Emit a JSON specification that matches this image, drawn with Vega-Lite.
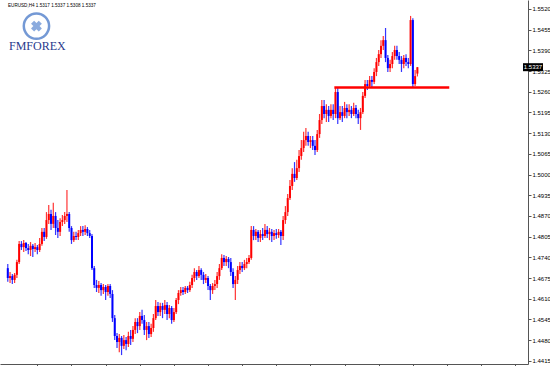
{
"$schema": "https://vega.github.io/schema/vega-lite/v6.json",
"width": 528, "height": 364,
"autosize": {"type": "none"},
"padding": {"left": 0, "top": 0, "right": 22, "bottom": 2},
"background": "white",
"config": {"view": {"stroke": null}, "font": "Liberation Sans", "axis": {"labelOverlap": false, "labelFlush": false, "grid": false}},
"data": {"values": [
{"i":0,"o":1.4706,"h":1.4719,"l":1.4663,"c":1.4675},
{"i":1,"o":1.4675,"h":1.4694,"l":1.4659,"c":1.4681},
{"i":2,"o":1.4681,"h":1.4688,"l":1.4656,"c":1.4669},
{"i":3,"o":1.4669,"h":1.4691,"l":1.4659,"c":1.4685},
{"i":4,"o":1.4685,"h":1.4732,"l":1.4675,"c":1.4725},
{"i":5,"o":1.4725,"h":1.4791,"l":1.4719,"c":1.4782},
{"i":6,"o":1.4782,"h":1.4791,"l":1.4763,"c":1.4772},
{"i":7,"o":1.4772,"h":1.4794,"l":1.4757,"c":1.4785},
{"i":8,"o":1.4785,"h":1.4788,"l":1.4760,"c":1.4769},
{"i":9,"o":1.4769,"h":1.4782,"l":1.4750,"c":1.4763},
{"i":10,"o":1.4763,"h":1.4788,"l":1.4744,"c":1.4776},
{"i":11,"o":1.4776,"h":1.4782,"l":1.4741,"c":1.4766},
{"i":12,"o":1.4766,"h":1.4785,"l":1.4757,"c":1.4772},
{"i":13,"o":1.4772,"h":1.4779,"l":1.4750,"c":1.4763},
{"i":14,"o":1.4763,"h":1.4801,"l":1.4757,"c":1.4782},
{"i":15,"o":1.4782,"h":1.4832,"l":1.4776,"c":1.4820},
{"i":16,"o":1.4820,"h":1.4832,"l":1.4791,"c":1.4804},
{"i":17,"o":1.4804,"h":1.4882,"l":1.4798,"c":1.4857},
{"i":18,"o":1.4857,"h":1.4904,"l":1.4845,"c":1.4876},
{"i":19,"o":1.4876,"h":1.4889,"l":1.4826,"c":1.4845},
{"i":20,"o":1.4845,"h":1.4911,"l":1.4832,"c":1.4870},
{"i":21,"o":1.4870,"h":1.4882,"l":1.4810,"c":1.4832},
{"i":22,"o":1.4832,"h":1.4857,"l":1.4801,"c":1.4820},
{"i":23,"o":1.4820,"h":1.4863,"l":1.4807,"c":1.4851},
{"i":24,"o":1.4851,"h":1.4873,"l":1.4838,"c":1.4857},
{"i":25,"o":1.4857,"h":1.4882,"l":1.4845,"c":1.4870},
{"i":26,"o":1.4870,"h":1.4951,"l":1.4851,"c":1.4876},
{"i":27,"o":1.4876,"h":1.4882,"l":1.4820,"c":1.4832},
{"i":28,"o":1.4832,"h":1.4838,"l":1.4782,"c":1.4794},
{"i":29,"o":1.4794,"h":1.4820,"l":1.4788,"c":1.4807},
{"i":30,"o":1.4807,"h":1.4820,"l":1.4794,"c":1.4804},
{"i":31,"o":1.4804,"h":1.4826,"l":1.4794,"c":1.4816},
{"i":32,"o":1.4816,"h":1.4838,"l":1.4807,"c":1.4826},
{"i":33,"o":1.4826,"h":1.4838,"l":1.4807,"c":1.4820},
{"i":34,"o":1.4820,"h":1.4841,"l":1.4810,"c":1.4829},
{"i":35,"o":1.4829,"h":1.4835,"l":1.4807,"c":1.4816},
{"i":36,"o":1.4816,"h":1.4826,"l":1.4801,"c":1.4807},
{"i":37,"o":1.4807,"h":1.4813,"l":1.4700,"c":1.4706},
{"i":38,"o":1.4706,"h":1.4713,"l":1.4644,"c":1.4653},
{"i":39,"o":1.4653,"h":1.4669,"l":1.4631,"c":1.4644},
{"i":40,"o":1.4644,"h":1.4666,"l":1.4628,"c":1.4653},
{"i":41,"o":1.4653,"h":1.4659,"l":1.4619,"c":1.4637},
{"i":42,"o":1.4637,"h":1.4656,"l":1.4625,"c":1.4647},
{"i":43,"o":1.4647,"h":1.4653,"l":1.4606,"c":1.4631},
{"i":44,"o":1.4631,"h":1.4656,"l":1.4619,"c":1.4650},
{"i":45,"o":1.4650,"h":1.4656,"l":1.4612,"c":1.4625},
{"i":46,"o":1.4625,"h":1.4637,"l":1.4537,"c":1.4549},
{"i":47,"o":1.4549,"h":1.4559,"l":1.4480,"c":1.4493},
{"i":48,"o":1.4493,"h":1.4502,"l":1.4455,"c":1.4474},
{"i":49,"o":1.4474,"h":1.4499,"l":1.4442,"c":1.4487},
{"i":50,"o":1.4487,"h":1.4493,"l":1.4433,"c":1.4462},
{"i":51,"o":1.4462,"h":1.4496,"l":1.4452,"c":1.4480},
{"i":52,"o":1.4480,"h":1.4490,"l":1.4448,"c":1.4468},
{"i":53,"o":1.4468,"h":1.4506,"l":1.4458,"c":1.4493},
{"i":54,"o":1.4493,"h":1.4512,"l":1.4465,"c":1.4484},
{"i":55,"o":1.4484,"h":1.4524,"l":1.4474,"c":1.4512},
{"i":56,"o":1.4512,"h":1.4549,"l":1.4499,"c":1.4537},
{"i":57,"o":1.4537,"h":1.4549,"l":1.4502,"c":1.4524},
{"i":58,"o":1.4524,"h":1.4568,"l":1.4512,"c":1.4556},
{"i":59,"o":1.4556,"h":1.4575,"l":1.4531,"c":1.4543},
{"i":60,"o":1.4543,"h":1.4559,"l":1.4496,"c":1.4512},
{"i":61,"o":1.4512,"h":1.4537,"l":1.4480,"c":1.4524},
{"i":62,"o":1.4524,"h":1.4537,"l":1.4487,"c":1.4499},
{"i":63,"o":1.4499,"h":1.4531,"l":1.4490,"c":1.4518},
{"i":64,"o":1.4518,"h":1.4562,"l":1.4506,"c":1.4549},
{"i":65,"o":1.4549,"h":1.4606,"l":1.4543,"c":1.4587},
{"i":66,"o":1.4587,"h":1.4600,"l":1.4556,"c":1.4568},
{"i":67,"o":1.4568,"h":1.4597,"l":1.4556,"c":1.4587},
{"i":68,"o":1.4587,"h":1.4597,"l":1.4549,"c":1.4575},
{"i":69,"o":1.4575,"h":1.4606,"l":1.4562,"c":1.4590},
{"i":70,"o":1.4590,"h":1.4600,"l":1.4543,"c":1.4562},
{"i":71,"o":1.4562,"h":1.4590,"l":1.4549,"c":1.4581},
{"i":72,"o":1.4581,"h":1.4587,"l":1.4531,"c":1.4543},
{"i":73,"o":1.4543,"h":1.4581,"l":1.4537,"c":1.4568},
{"i":74,"o":1.4568,"h":1.4612,"l":1.4562,"c":1.4606},
{"i":75,"o":1.4606,"h":1.4637,"l":1.4593,"c":1.4628},
{"i":76,"o":1.4628,"h":1.4647,"l":1.4619,"c":1.4637},
{"i":77,"o":1.4637,"h":1.4647,"l":1.4622,"c":1.4631},
{"i":78,"o":1.4631,"h":1.4650,"l":1.4625,"c":1.4644},
{"i":79,"o":1.4644,"h":1.4650,"l":1.4628,"c":1.4637},
{"i":80,"o":1.4637,"h":1.4663,"l":1.4631,"c":1.4653},
{"i":81,"o":1.4653,"h":1.4685,"l":1.4644,"c":1.4675},
{"i":82,"o":1.4675,"h":1.4706,"l":1.4663,"c":1.4694},
{"i":83,"o":1.4694,"h":1.4700,"l":1.4669,"c":1.4681},
{"i":84,"o":1.4681,"h":1.4713,"l":1.4675,"c":1.4700},
{"i":85,"o":1.4700,"h":1.4706,"l":1.4669,"c":1.4685},
{"i":86,"o":1.4685,"h":1.4694,"l":1.4656,"c":1.4669},
{"i":87,"o":1.4669,"h":1.4688,"l":1.4659,"c":1.4675},
{"i":88,"o":1.4675,"h":1.4681,"l":1.4637,"c":1.4650},
{"i":89,"o":1.4650,"h":1.4656,"l":1.4606,"c":1.4637},
{"i":90,"o":1.4637,"h":1.4659,"l":1.4625,"c":1.4650},
{"i":91,"o":1.4650,"h":1.4669,"l":1.4637,"c":1.4656},
{"i":92,"o":1.4656,"h":1.4694,"l":1.4644,"c":1.4681},
{"i":93,"o":1.4681,"h":1.4719,"l":1.4669,"c":1.4706},
{"i":94,"o":1.4706,"h":1.4750,"l":1.4700,"c":1.4738},
{"i":95,"o":1.4738,"h":1.4747,"l":1.4713,"c":1.4725},
{"i":96,"o":1.4725,"h":1.4744,"l":1.4713,"c":1.4735},
{"i":97,"o":1.4735,"h":1.4741,"l":1.4706,"c":1.4725},
{"i":98,"o":1.4725,"h":1.4738,"l":1.4681,"c":1.4694},
{"i":99,"o":1.4694,"h":1.4706,"l":1.4644,"c":1.4656},
{"i":100,"o":1.4656,"h":1.4681,"l":1.4606,"c":1.4669},
{"i":101,"o":1.4669,"h":1.4713,"l":1.4656,"c":1.4700},
{"i":102,"o":1.4700,"h":1.4725,"l":1.4688,"c":1.4713},
{"i":103,"o":1.4713,"h":1.4725,"l":1.4694,"c":1.4706},
{"i":104,"o":1.4706,"h":1.4732,"l":1.4700,"c":1.4719},
{"i":105,"o":1.4719,"h":1.4738,"l":1.4706,"c":1.4725},
{"i":106,"o":1.4725,"h":1.4747,"l":1.4719,"c":1.4738},
{"i":107,"o":1.4738,"h":1.4838,"l":1.4732,"c":1.4826},
{"i":108,"o":1.4826,"h":1.4838,"l":1.4794,"c":1.4807},
{"i":109,"o":1.4807,"h":1.4829,"l":1.4794,"c":1.4820},
{"i":110,"o":1.4820,"h":1.4826,"l":1.4788,"c":1.4801},
{"i":111,"o":1.4801,"h":1.4826,"l":1.4788,"c":1.4813},
{"i":112,"o":1.4813,"h":1.4832,"l":1.4794,"c":1.4807},
{"i":113,"o":1.4807,"h":1.4845,"l":1.4801,"c":1.4826},
{"i":114,"o":1.4826,"h":1.4838,"l":1.4801,"c":1.4813},
{"i":115,"o":1.4813,"h":1.4832,"l":1.4794,"c":1.4820},
{"i":116,"o":1.4820,"h":1.4829,"l":1.4788,"c":1.4807},
{"i":117,"o":1.4807,"h":1.4826,"l":1.4794,"c":1.4816},
{"i":118,"o":1.4816,"h":1.4829,"l":1.4798,"c":1.4810},
{"i":119,"o":1.4810,"h":1.4829,"l":1.4801,"c":1.4820},
{"i":120,"o":1.4820,"h":1.4826,"l":1.4779,"c":1.4807},
{"i":121,"o":1.4807,"h":1.4870,"l":1.4794,"c":1.4857},
{"i":122,"o":1.4857,"h":1.4901,"l":1.4845,"c":1.4882},
{"i":123,"o":1.4882,"h":1.4939,"l":1.4870,"c":1.4926},
{"i":124,"o":1.4926,"h":1.4983,"l":1.4920,"c":1.4964},
{"i":125,"o":1.4964,"h":1.5020,"l":1.4951,"c":1.5002},
{"i":126,"o":1.5002,"h":1.5039,"l":1.4977,"c":1.4989},
{"i":127,"o":1.4989,"h":1.5046,"l":1.4983,"c":1.5020},
{"i":128,"o":1.5020,"h":1.5077,"l":1.5008,"c":1.5058},
{"i":129,"o":1.5058,"h":1.5108,"l":1.5046,"c":1.5083},
{"i":130,"o":1.5083,"h":1.5134,"l":1.5071,"c":1.5108},
{"i":131,"o":1.5108,"h":1.5146,"l":1.5090,"c":1.5121},
{"i":132,"o":1.5121,"h":1.5134,"l":1.5090,"c":1.5102},
{"i":133,"o":1.5102,"h":1.5121,"l":1.5083,"c":1.5108},
{"i":134,"o":1.5108,"h":1.5121,"l":1.5077,"c":1.5090},
{"i":135,"o":1.5090,"h":1.5108,"l":1.5061,"c":1.5077},
{"i":136,"o":1.5077,"h":1.5140,"l":1.5071,"c":1.5127},
{"i":137,"o":1.5127,"h":1.5190,"l":1.5115,"c":1.5171},
{"i":138,"o":1.5171,"h":1.5234,"l":1.5159,"c":1.5215},
{"i":139,"o":1.5215,"h":1.5234,"l":1.5177,"c":1.5190},
{"i":140,"o":1.5190,"h":1.5221,"l":1.5165,"c":1.5203},
{"i":141,"o":1.5203,"h":1.5215,"l":1.5165,"c":1.5184},
{"i":142,"o":1.5184,"h":1.5221,"l":1.5177,"c":1.5203},
{"i":143,"o":1.5203,"h":1.5221,"l":1.5171,"c":1.5190},
{"i":144,"o":1.5190,"h":1.5272,"l":1.5177,"c":1.5259},
{"i":145,"o":1.5259,"h":1.5272,"l":1.5159,"c":1.5177},
{"i":146,"o":1.5177,"h":1.5215,"l":1.5171,"c":1.5196},
{"i":147,"o":1.5196,"h":1.5215,"l":1.5165,"c":1.5184},
{"i":148,"o":1.5184,"h":1.5228,"l":1.5177,"c":1.5209},
{"i":149,"o":1.5209,"h":1.5221,"l":1.5177,"c":1.5196},
{"i":150,"o":1.5196,"h":1.5221,"l":1.5184,"c":1.5203},
{"i":151,"o":1.5203,"h":1.5215,"l":1.5177,"c":1.5190},
{"i":152,"o":1.5190,"h":1.5225,"l":1.5184,"c":1.5209},
{"i":153,"o":1.5209,"h":1.5218,"l":1.5177,"c":1.5190},
{"i":154,"o":1.5190,"h":1.5203,"l":1.5159,"c":1.5177},
{"i":155,"o":1.5177,"h":1.5209,"l":1.5140,"c":1.5196},
{"i":156,"o":1.5196,"h":1.5259,"l":1.5190,"c":1.5247},
{"i":157,"o":1.5247,"h":1.5297,"l":1.5240,"c":1.5284},
{"i":158,"o":1.5284,"h":1.5297,"l":1.5265,"c":1.5278},
{"i":159,"o":1.5278,"h":1.5309,"l":1.5272,"c":1.5297},
{"i":160,"o":1.5297,"h":1.5309,"l":1.5272,"c":1.5291},
{"i":161,"o":1.5291,"h":1.5334,"l":1.5284,"c":1.5322},
{"i":162,"o":1.5322,"h":1.5366,"l":1.5309,"c":1.5353},
{"i":163,"o":1.5353,"h":1.5391,"l":1.5341,"c":1.5378},
{"i":164,"o":1.5378,"h":1.5422,"l":1.5366,"c":1.5404},
{"i":165,"o":1.5404,"h":1.5435,"l":1.5391,"c":1.5422},
{"i":166,"o":1.5422,"h":1.5460,"l":1.5353,"c":1.5366},
{"i":167,"o":1.5366,"h":1.5375,"l":1.5322,"c":1.5334},
{"i":168,"o":1.5334,"h":1.5360,"l":1.5322,"c":1.5347},
{"i":169,"o":1.5347,"h":1.5385,"l":1.5334,"c":1.5372},
{"i":170,"o":1.5372,"h":1.5404,"l":1.5360,"c":1.5391},
{"i":171,"o":1.5391,"h":1.5404,"l":1.5360,"c":1.5372},
{"i":172,"o":1.5372,"h":1.5385,"l":1.5347,"c":1.5360},
{"i":173,"o":1.5360,"h":1.5372,"l":1.5322,"c":1.5347},
{"i":174,"o":1.5347,"h":1.5375,"l":1.5334,"c":1.5366},
{"i":175,"o":1.5366,"h":1.5378,"l":1.5341,"c":1.5353},
{"i":176,"o":1.5353,"h":1.5366,"l":1.5334,"c":1.5347},
{"i":177,"o":1.5347,"h":1.5498,"l":1.5341,"c":1.5485},
{"i":178,"o":1.5485,"h":1.5491,"l":1.5272,"c":1.5284},
{"i":179,"o":1.5284,"h":1.5328,"l":1.5278,"c":1.5309},
{"i":180,"o":1.5317,"h":1.5337,"l":1.5308,"c":1.5337}
]},
"layer": [
{
"mark": {"type": "rule", "strokeWidth": 1.2, "opacity": 0.85},
"encoding": {
"x": {"field": "i", "type": "quantitative", "scale": {"domain": [-1.22, 226.4], "nice": false, "zero": false},
"axis": {"orient": "bottom", "values": [13,28,43,58,73,88,103,118,133,148,163,178,193,208,223], "tickCount": 30, "labels": false, "title": null, "grid": false, "tickSize": 3, "domainColor": "#555555", "tickColor": "#555555", "domainWidth": 1}},
"y": {"field": "l", "type": "quantitative", "scale": {"domain": [1.4405, 1.5548], "nice": false, "zero": false},
"axis": {"orient": "right", "values": [1.4415,1.448,1.4545,1.461,1.4675,1.474,1.4805,1.487,1.4935,1.5,1.5065,1.513,1.5195,1.526,1.5325,1.539,1.5455,1.552], "tickCount": 30, "format": ".4f", "title": null, "grid": false, "tickSize": 3, "labelPadding": 1, "labelFontSize": 6, "labelColor": "#000000", "labelFont": "Liberation Sans", "domainColor": "#555555", "tickColor": "#555555", "labelOverlap": false, "labelFlush": false, "labelBound": false}},
"y2": {"field": "h"},
"color": {"condition": {"test": "datum.c >= datum.o", "value": "#ff1010"}, "value": "#1010ff"}
}
},
{
"mark": {"type": "bar", "size": 2},
"encoding": {
"x": {"field": "i", "type": "quantitative"},
"y": {"field": "o", "type": "quantitative"},
"y2": {"field": "c"},
"color": {"condition": {"test": "datum.c >= datum.o", "value": "#ff0000"}, "value": "#0000ff"}
}
},
{
"data": {"values": [{}]},
"mark": {"type": "rule", "color": "#ff0000", "strokeWidth": 2.5},
"encoding": {"x": {"datum": 143.5}, "x2": {"datum": 194}, "y": {"datum": 1.5273}}
},
{
"data": {"values": [{}]},
"mark": {"type": "rect", "color": "#000000", "x2Offset": 20, "yOffset": -4, "y2Offset": 4, "clip": false},
"encoding": {"x": {"datum": 226.4}, "x2": {"datum": 226.4}, "y": {"datum": 1.5337}, "y2": {"datum": 1.5337}}
},
{
"data": {"values": [{}]},
"mark": {"type": "text", "color": "#ffffff", "fontSize": 6, "dx": 10, "align": "center", "baseline": "middle", "font": "Liberation Sans"},
"encoding": {"x": {"datum": 226.4}, "y": {"datum": 1.5337}, "text": {"value": "1.5337"}}
},
{
"data": {"values": [{}]},
"mark": {"type": "text", "color": "#000000", "fontSize": 4.6, "dx": 3, "dy": 3, "align": "left", "baseline": "top", "font": "Liberation Sans"},
"encoding": {"x": {"datum": -1.22}, "y": {"datum": 1.5548}, "text": {"value": "EURUSD,H4  1.5317 1.5337 1.5308 1.5337"}}
},
{
"data": {"values": [{}]},
"mark": {"type": "point", "shape": "circle", "filled": false, "size": 640, "strokeWidth": 2.5, "color": "#3a6fc4"},
"encoding": {"x": {"datum": 12.6}, "y": {"datum": 1.5466}}
},
{
"data": {"values": [{}]},
"mark": {"type": "point", "shape": "cross", "filled": true, "size": 120, "color": "#5a88d0", "angle": 45},
"encoding": {"x": {"datum": 12.6}, "y": {"datum": 1.5466}}
},
{
"data": {"values": [{}]},
"mark": {"type": "text", "color": "#2a3a8c", "fontSize": 12, "align": "center", "baseline": "middle", "font": "Liberation Serif"},
"encoding": {"x": {"datum": 13}, "y": {"datum": 1.5404}, "text": {"value": "FMFOREX"}}
}
]
}
